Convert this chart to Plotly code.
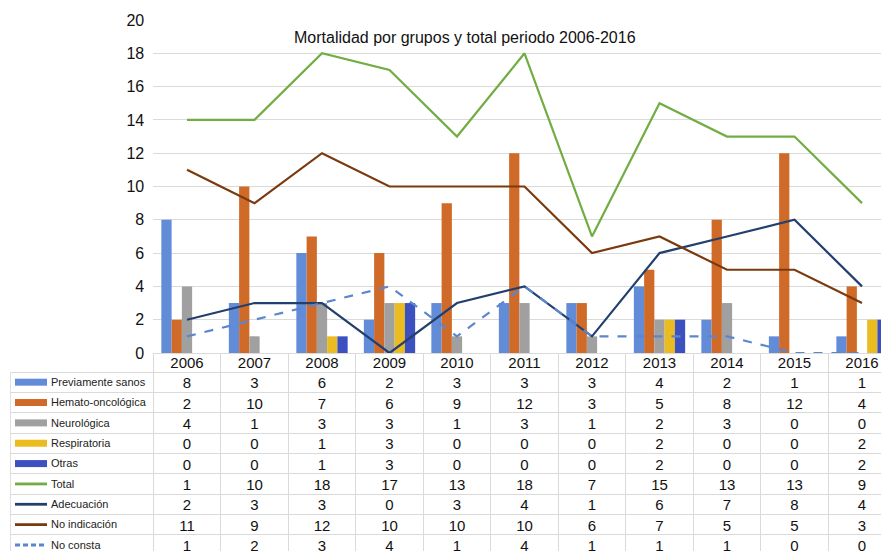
import plotly.graph_objects as go

years = ["2006", "2007", "2008", "2009", "2010", "2011", "2012", "2013", "2014", "2015", "2016"]

# Bar series
previamente_sanos = [8, 3, 6, 2, 3, 3, 3, 4, 2, 1, 1]
hemato_oncologica = [2, 10, 7, 6, 9, 12, 3, 5, 8, 12, 4]
neurologica = [4, 1, 3, 3, 1, 3, 1, 2, 3, 0, 0]
respiratoria = [0, 0, 1, 3, 0, 0, 0, 2, 0, 0, 2]
otras = [0, 0, 1, 3, 0, 0, 0, 2, 0, 0, 2]

# Line series (as drawn in the chart)
total = [14, 14, 18, 17, 13, 18, 7, 15, 13, 13, 9]
adecuacion = [2, 3, 3, 0, 3, 4, 1, 6, 7, 8, 4]
no_indicacion = [11, 9, 12, 10, 10, 10, 6, 7, 5, 5, 3]
no_consta = [1, 2, 3, 4, 1, 4, 1, 1, 1, 0, 0]

# Data table text (as printed under the chart)
table_total_text = ["1", "10", "18", "17", "13", "18", "7", "15", "13", "13", "9"]

series_names = ["Previamente sanos", "Hemato-oncológica", "Neurológica", "Respiratoria", "Otras",
                "Total", "Adecuación", "No indicación", "No consta"]

FONT = "Liberation Sans, Arial, Helvetica, sans-serif"
PAGE_W, PAGE_H = 889, 551
OFF = 8  # default page body margin
W, H = PAGE_W - OFF, PAGE_H - OFF


def fx(px):
    return (px - OFF) / W


def fy(py):
    return 1 - (py - OFF) / H


PX_UNIT = 67.5
X_LEFT_PX = 153.25
x_right = (PAGE_W - X_LEFT_PX) / PX_UNIT - 0.5
x2_left = -0.5 - (X_LEFT_PX - 10) / PX_UNIT
ROW_PX = 20.35
ROW_TOP_PX = 372
y2_top = (353 - ROW_TOP_PX) / ROW_PX
y2_bottom = (PAGE_H - ROW_TOP_PX) / ROW_PX


def px_to_x2(px):
    return -0.5 + (px - X_LEFT_PX) / PX_UNIT


xs = list(range(len(years)))

bar_specs = [
    (series_names[0], previamente_sanos, "#628cd7"),
    (series_names[1], hemato_oncologica, "#d06a28"),
    (series_names[2], neurologica, "#a0a0a0"),
    (series_names[3], respiratoria, "#ebbb22"),
    (series_names[4], otras, "#3c50c0"),
]
line_specs = [
    (series_names[5], total, "#72ad44", "solid"),
    (series_names[6], adecuacion, "#233f6e", "solid"),
    (series_names[7], no_indicacion, "#7a3a0e", "solid"),
    (series_names[8], no_consta, "#5b86cf", "dash"),
]

fig = go.Figure()

for name, vals, color in bar_specs:
    fig.add_trace(go.Bar(x=xs, y=vals, name=name, marker_color=color,
                         marker_line_width=0, xaxis="x", yaxis="y", showlegend=False))

for name, vals, color, dash in line_specs:
    fig.add_trace(go.Scatter(x=xs, y=vals, name=name, mode="lines",
                             line=dict(color=color, width=2.2, dash=dash),
                             xaxis="x", yaxis="y", showlegend=False))

# Table: header years
fig.add_trace(go.Scatter(x=xs, y=[-0.36] * len(xs), text=years, mode="text",
                         textfont=dict(family=FONT, size=15, color="#111"),
                         xaxis="x2", yaxis="y2", showlegend=False, cliponaxis=False, hoverinfo="skip"))

table_rows = [
    [str(v) for v in previamente_sanos],
    [str(v) for v in hemato_oncologica],
    [str(v) for v in neurologica],
    [str(v) for v in respiratoria],
    [str(v) for v in otras],
    table_total_text,
    [str(v) for v in adecuacion],
    [str(v) for v in no_indicacion],
    [str(v) for v in no_consta],
]
for r, row in enumerate(table_rows):
    fig.add_trace(go.Scatter(x=xs, y=[r + 0.62] * len(xs), text=row, mode="text",
                             textfont=dict(family=FONT, size=15, color="#111"),
                             xaxis="x2", yaxis="y2", showlegend=False, cliponaxis=False, hoverinfo="skip"))

# Legend keys inside table
key_x0, key_x1 = px_to_x2(15), px_to_x2(47)
for r, (name, _, color) in enumerate(bar_specs):
    fig.add_trace(go.Scatter(x=[key_x0, key_x1], y=[r + 0.5, r + 0.5], mode="lines",
                             line=dict(color=color, width=7), xaxis="x2", yaxis="y2",
                             showlegend=False, hoverinfo="skip"))
for k, (name, _, color, dash) in enumerate(line_specs):
    r = k + 5
    fig.add_trace(go.Scatter(x=[key_x0, key_x1], y=[r + 0.5, r + 0.5], mode="lines",
                             line=dict(color=color, width=2.8,
                                       dash="5px,3px" if dash == "dash" else dash),
                             xaxis="x2", yaxis="y2", showlegend=False, hoverinfo="skip"))
fig.add_trace(go.Scatter(x=[px_to_x2(51)] * len(series_names),
                         y=[r + 0.55 for r in range(len(series_names))],
                         text=series_names, mode="text", textposition="middle right",
                         textfont=dict(family=FONT, size=11, color="#222"),
                         xaxis="x2", yaxis="y2", showlegend=False, cliponaxis=False, hoverinfo="skip"))

GRID = "#dadada"
fig.update_layout(
    width=W, height=H,
    margin=dict(l=0, r=0, t=0, b=0, autoexpand=False),
    paper_bgcolor="white", plot_bgcolor="rgba(0,0,0,0)",
    barmode="group", bargap=0.24, bargroupgap=0,
    font=dict(family=FONT, color="#111"),
    xaxis=dict(domain=[fx(X_LEFT_PX), 1], range=[-0.5, x_right], anchor="y",
               showticklabels=False, showgrid=False, zeroline=False, automargin=False,
               showline=True, linecolor=GRID, linewidth=1, ticks=""),
    yaxis=dict(domain=[fy(353), fy(20)], range=[0, 20], dtick=2, anchor="x",
               gridcolor=GRID, gridwidth=1, zeroline=False, showline=False, automargin=False,
               tickfont=dict(family=FONT, size=16, color="#111"), ticks="", ticklabelstandoff=8),
    xaxis2=dict(domain=[fx(10), 1], range=[x2_left, x_right], anchor="y2", automargin=False,
                tickvals=[i + 0.5 for i in range(-1, 10)], showticklabels=False,
                showgrid=True, gridcolor=GRID, gridwidth=1, zeroline=False, ticks=""),
    yaxis2=dict(domain=[0, fy(353)], range=[y2_bottom, y2_top], anchor="x2", automargin=False,
                tickvals=list(range(0, 9)), showticklabels=False,
                showgrid=True, gridcolor=GRID, gridwidth=1, zeroline=False, ticks=""),
    shapes=[dict(type="line", xref="x2", yref="y2", x0=x2_left + 0.005, x1=x2_left + 0.005,
                 y0=0, y1=y2_bottom, line=dict(color=GRID, width=1))],
    annotations=[dict(text="Mortalidad por grupos y total periodo 2006-2016",
                      xref="paper", yref="paper", x=fx(465), y=fy(38),
                      xanchor="center", yanchor="middle", showarrow=False,
                      font=dict(family=FONT, size=16, color="#111"))],
)

fig.write_html("out.html")
